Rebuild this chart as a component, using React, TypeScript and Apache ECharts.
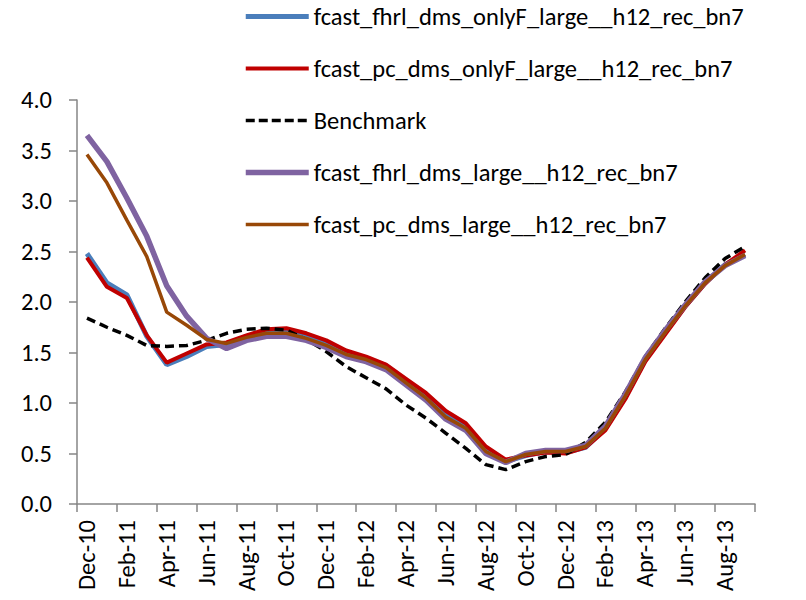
import React, { useEffect, useRef } from "react";
import * as echarts from "echarts";

const categories = [
  "Dec-10", "Jan-11", "Feb-11", "Mar-11", "Apr-11", "May-11", "Jun-11", "Jul-11", "Aug-11", "Sep-11", "Oct-11", "Nov-11",
  "Dec-11", "Jan-12", "Feb-12", "Mar-12", "Apr-12", "May-12", "Jun-12", "Jul-12", "Aug-12", "Sep-12", "Oct-12", "Nov-12",
  "Dec-12", "Jan-13", "Feb-13", "Mar-13", "Apr-13", "May-13", "Jun-13", "Jul-13", "Aug-13", "Sep-13",
];

const fhrlOnlyF = [2.48, 2.19, 2.07, 1.66, 1.38, 1.46, 1.56, 1.58, 1.66, 1.71, 1.71, 1.66, 1.59, 1.50, 1.44, 1.37, 1.22, 1.07, 0.89, 0.77, 0.54, 0.42, 0.48, 0.52, 0.51, 0.56, 0.75, 1.06, 1.43, 1.70, 1.96, 2.19, 2.37, 2.47];
const pcOnlyF = [2.44, 2.15, 2.04, 1.67, 1.40, 1.49, 1.58, 1.60, 1.67, 1.73, 1.74, 1.69, 1.62, 1.52, 1.46, 1.38, 1.24, 1.10, 0.92, 0.80, 0.57, 0.44, 0.48, 0.51, 0.50, 0.56, 0.73, 1.04, 1.41, 1.68, 1.95, 2.18, 2.37, 2.51];
const benchmark = [1.84, 1.75, 1.67, 1.57, 1.56, 1.57, 1.62, 1.69, 1.73, 1.74, 1.72, 1.63, 1.51, 1.36, 1.25, 1.14, 0.98, 0.85, 0.70, 0.55, 0.39, 0.34, 0.42, 0.47, 0.49, 0.61, 0.81, 1.11, 1.46, 1.74, 2.00, 2.24, 2.43, 2.55];
const fhrlLarge = [3.65, 3.39, 3.03, 2.65, 2.16, 1.86, 1.64, 1.54, 1.62, 1.66, 1.66, 1.62, 1.55, 1.46, 1.41, 1.33, 1.18, 1.03, 0.84, 0.73, 0.50, 0.41, 0.50, 0.53, 0.53, 0.58, 0.77, 1.09, 1.45, 1.72, 1.97, 2.20, 2.36, 2.46];
const pcLarge = [3.46, 3.18, 2.81, 2.45, 1.90, 1.77, 1.63, 1.59, 1.65, 1.69, 1.69, 1.64, 1.57, 1.48, 1.43, 1.35, 1.20, 1.05, 0.86, 0.75, 0.52, 0.42, 0.49, 0.52, 0.52, 0.57, 0.75, 1.07, 1.43, 1.70, 1.96, 2.19, 2.36, 2.47];

const seriesNames = [
  "fcast_fhrl_dms_onlyF_large__h12_rec_bn7",
  "fcast_pc_dms_onlyF_large__h12_rec_bn7",
  "Benchmark",
  "fcast_fhrl_dms_large__h12_rec_bn7",
  "fcast_pc_dms_large__h12_rec_bn7",
];
const seriesColors = ["#4A7EBB", "#C00000", "#000000", "#7F63A1", "#984807"];
const seriesWidths = [5, 4, 3.5, 5.5, 3.5];

const FONT = "Carlito, Calibri, 'Liberation Sans', Arial, sans-serif";
const FS = 24.5;
const AXIS_COLOR = "#868686";

export default function App() {
  const ref = useRef<HTMLDivElement>(null);

  useEffect(() => {
    document.body.style.margin = "0";
    if (!ref.current) return;
    const chart = echarts.init(ref.current, undefined, { renderer: "svg" });

    const mk = (i: number, data: number[], type: any = "solid") => ({
      name: seriesNames[i],
      type: "line",
      data,
      symbol: "none",
      showSymbol: false,
      lineStyle: { color: seriesColors[i], width: seriesWidths[i], type },
      itemStyle: { color: seriesColors[i] },
      emphasis: { disabled: true },
    });

    chart.setOption({
      animation: false,
      backgroundColor: "#ffffff",
      textStyle: { fontFamily: FONT },
      grid: { left: 77, right: 51, top: 100, bottom: 96, containLabel: false },
      legend: {
        orient: "vertical",
        left: 243,
        top: 4,
        padding: 0,
        itemWidth: 63,
        itemHeight: 24,
        itemGap: 27,
        itemStyle: { opacity: 0, borderWidth: 0 },
        textStyle: { fontFamily: FONT, fontSize: FS, color: "#000", lineHeight: 24 },
        data: seriesNames.map((n, i) => ({
          name: n,
          lineStyle: {
            width: seriesWidths[i],
            color: seriesColors[i],
            type: i === 2 ? [9, 4] : "solid",
          },
          itemStyle: { opacity: 0, borderWidth: 0 },
        })),
      },
      xAxis: {
        type: "category",
        data: categories,
        boundaryGap: true,
        axisLine: { show: true, lineStyle: { color: AXIS_COLOR, width: 1.5 } },
        axisTick: { show: true, interval: 1, length: 8, lineStyle: { color: AXIS_COLOR, width: 1.5 } },
        axisLabel: {
          interval: 1,
          rotate: 90,
          margin: 16,
          fontSize: FS,
          fontFamily: FONT,
          color: "#000",
        },
        splitLine: { show: false },
      },
      yAxis: {
        type: "value",
        min: 0,
        max: 4,
        interval: 0.5,
        axisLine: { show: true, lineStyle: { color: AXIS_COLOR, width: 1.5 } },
        axisTick: { show: true, length: 8, lineStyle: { color: AXIS_COLOR, width: 1.5 } },
        axisLabel: {
          margin: 25,
          fontSize: FS,
          fontFamily: FONT,
          color: "#000",
          formatter: (v: number) => v.toFixed(1),
        },
        splitLine: { show: false },
      },
      series: [
        mk(0, fhrlOnlyF),
        mk(1, pcOnlyF),
        mk(2, benchmark, [9, 5]),
        mk(3, fhrlLarge),
        mk(4, pcLarge),
      ],
    });

    return () => chart.dispose();
  }, []);

  return <div ref={ref} style={{ width: 806, height: 600 }} />;
}
